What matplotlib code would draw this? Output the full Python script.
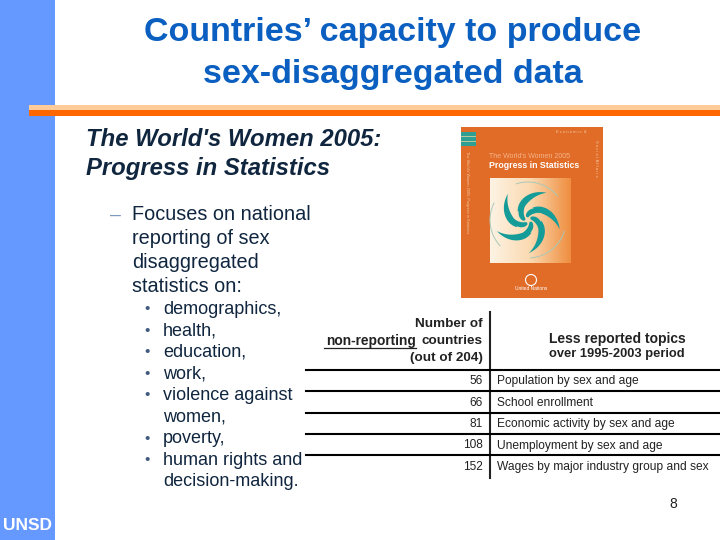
import numpy as np
import matplotlib
matplotlib.use('Agg')
import matplotlib.pyplot as plt
from matplotlib.colors import LinearSegmentedColormap
from matplotlib.patches import Rectangle, Polygon, Circle

plt.rcParams['font.family'] = ['Liberation Sans', 'DejaVu Sans']

title_lines = ['Countries’ capacity to produce', 'sex-disaggregated data']
heading_lines = ["The World's Women 2005:", 'Progress in Statistics']
focus_lines = ['Focuses on national', 'reporting of sex', 'disaggregated', 'statistics on:']
bullet_lines = ['demographics,', 'health,', 'education,', 'work,', 'violence against', 'women,', 'poverty,', 'human rights and', 'decision-making.']
bullet_marks = [True, True, True, True, True, False, True, True, False]

counts = [56, 66, 81, 108, 152]
topics = ['Population by sex and age', 'School enrollment', 'Economic activity by sex and age',
          'Unemployment by sex and age', 'Wages by major industry group and sex']

blue = '#6699ff'
orange = '#ff6600'
title_col = '#0a5fc0'
dark = '#10263f'
table_col = '#222222'

fig = plt.figure(figsize=(7.2, 5.4), dpi=100)
ax = fig.add_axes([0, 0, 1, 1])

# sidebar and rule
ax.add_patch(Rectangle((0, 0), 55, 540, color=blue, lw=0))
ax.add_patch(Rectangle((29, 105), 691, 5, color='#ffcc99', lw=0))
ax.add_patch(Rectangle((29, 110), 691, 6, color=orange, lw=0))
ax.text(27, 526, 'UNSD', color='white', fontsize=12.5, fontweight='bold', ha='center', va='center')

for i, line in enumerate(title_lines):
    ax.text(393, 33 + i * 41, line, color=title_col, fontsize=24.5, fontweight='bold', ha='center', va='center')

for i, line in enumerate(heading_lines):
    ax.text(86, 139 + i * 29, line, color=dark, fontsize=17.2, style='italic', fontweight='bold', va='center')

ax.text(116, 215, '–', fontsize=14, va='center', ha='center', color='#7f9abf')
for i, line in enumerate(focus_lines):
    ax.text(132, 214 + i * 24.3, line, fontsize=14.3, va='center', color=dark)

for i, line in enumerate(bullet_lines):
    y = 309 + i * 21.6
    if bullet_marks[i]:
        ax.text(147, y, '•', fontsize=11, va='center', ha='center', color='#405a80')
    ax.text(163, y, line, fontsize=13, va='center', color=dark)

# book cover
ax.add_patch(Rectangle((461, 127), 142, 171, color='#e06c28', lw=0))
ax.add_patch(Rectangle((461, 132), 15, 14, color='#2f9f94', lw=0))
for y0 in [136, 141]:
    ax.add_patch(Rectangle((461, y0), 15, 1, color='#b9c89a', lw=0))
cmap = LinearSegmentedColormap.from_list('cover', ['#fdf3e4', '#fbd9b0', '#ef8e40'])
ax.imshow(np.linspace(0, 1, 80).reshape(1, -1), extent=(490, 571, 263, 178), cmap=cmap, aspect='auto', zorder=2)

cx, cy = 528, 220
t = np.linspace(0, 1, 40)
for r0, r1, w, sweep, n in [(4, 21, 8, 1.9, 5), (13, 33, 8, 1.5, 5)]:
    for k in range(n):
        a = k * 2 * np.pi / n + t * sweep + r0 * 0.1
        r_out = r0 + t * (r1 - r0)
        r_in = r_out - w * np.sin(t * np.pi)
        xs = np.r_[cx + r_out * np.cos(a), (cx + r_in * np.cos(a))[::-1]]
        ys = np.r_[cy + r_out * np.sin(a), (cy + r_in * np.sin(a))[::-1]]
        ax.add_patch(Polygon(np.c_[xs, ys], color='#169c98', lw=0, zorder=3))
for a0 in [0.3, 2.4, 4.4]:
    a = a0 + t * 1.2
    ax.plot(cx + 38 * np.cos(a), cy + 38 * np.sin(a), color='#a9c9b8', lw=0.7, zorder=3)

ax.text(489, 157, "The World's Women 2005", color='#f6b48a', fontsize=5, va='center', zorder=3)
ax.text(489, 166, 'Progress in Statistics', color='white', fontsize=6.3, fontweight='bold', va='center', zorder=3)
ax.text(467, 192, 'The World\'s Women 2005: Progress in Statistics', color='#f6c8a0', fontsize=2.8, rotation=270,
        ha='center', va='center', zorder=3)
ax.text(556, 132, 'E c o n o m i c  &', color='#f6c8a0', fontsize=3, va='center', zorder=3)
ax.text(596, 158, 'S o c i a l  A f f a i r s', color='#f6c8a0', fontsize=3, rotation=270, ha='center', va='center', zorder=3)
ax.add_patch(Circle((531, 280), 5.5, fill=False, ec='white', lw=0.8, zorder=3))
ax.text(531, 289, 'United Nations', color='white', fontsize=3.5, ha='center', va='center', zorder=3)

# table
ax.text(483, 324, 'Number of', fontsize=9.7, fontweight='bold', ha='right', va='center', color=table_col)
ax.text(483, 341, 'countries', fontsize=9.7, fontweight='bold', ha='right', va='center', color=table_col)
ax.text(416, 341, 'non-reporting', fontsize=9.9, fontweight='bold', ha='right', va='center', color=table_col)
ax.plot([324, 416], [347.5, 347.5], color=table_col, lw=0.9)
ax.text(483, 358, '(out of 204)', fontsize=9.7, fontweight='bold', ha='right', va='center', color=table_col)
ax.text(617, 339, 'Less reported topics', fontsize=10, fontweight='bold', ha='center', va='center', color=table_col)
ax.text(617, 354, 'over 1995-2003 period', fontsize=9.3, fontweight='bold', ha='center', va='center', color=table_col)

ax.plot([490, 490], [312, 478], color=table_col, lw=1.5)
for y in [370, 391, 413, 434, 455]:
    ax.plot([306, 720], [y, y], color='black', lw=1.5)
for i, (c, topic) in enumerate(zip(counts, topics)):
    y = 381 + i * 21.5
    ax.text(483, y, str(c), fontsize=8.6, ha='right', va='center', color=table_col)
    ax.text(497, y, topic, fontsize=8.65, va='center', color=table_col)

ax.text(673, 504, '8', fontsize=10, ha='center', va='center', color=table_col)

ax.set_xlim(0, 720)
ax.set_ylim(540, 0)
ax.axis('off')
fig.savefig('out.png', dpi=100)
